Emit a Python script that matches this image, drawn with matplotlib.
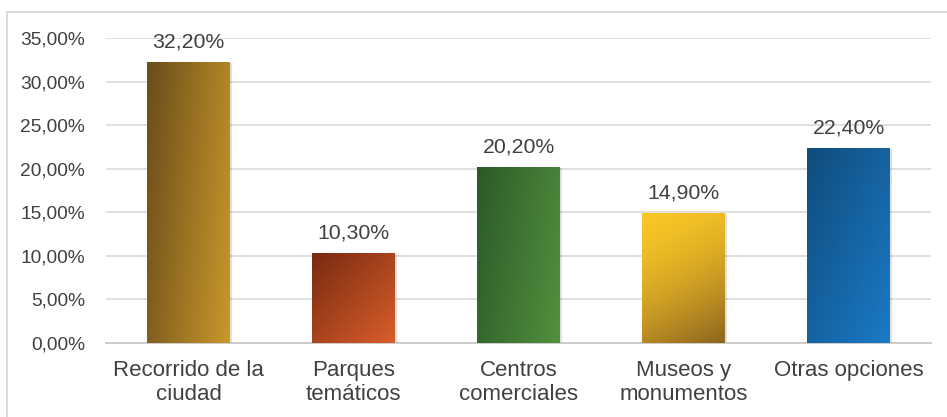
import numpy as np
import matplotlib
matplotlib.use("Agg")
import matplotlib.pyplot as plt
from matplotlib.patches import Rectangle
from matplotlib.colors import to_rgb
from matplotlib.ticker import FuncFormatter

plt.rcParams['font.family'] = ['Liberation Sans', 'DejaVu Sans']

categories = ["Recorrido de la\nciudad", "Parques\ntemáticos", "Centros\ncomerciales",
              "Museos y\nmonumentos", "Otras opciones"]
values = [32.2, 10.3, 20.2, 14.9, 22.4]
yticks = [0, 5, 10, 15, 20, 25, 30, 35]
# gradient colours: (top-left, bottom-right)
grad_colors = [("#6a4c1a", "#c9982b"),
               ("#782a12", "#d95e29"),
               ("#2b5a28", "#52903e"),
               ("#f9c626", "#8c6420"),
               ("#0f4c7c", "#1b7ac6")]

W, H = 947, 417
fig = plt.figure(figsize=(W/100, H/100), dpi=100)
ax = fig.add_axes([106/W, 1-343/H, (931-106)/W, (343-38)/H])

txt = "#404040"
ax.set_xlim(-0.5, 4.5)
ax.set_ylim(0, 35)
ax.set_yticks(yticks)
ax.yaxis.set_major_formatter(FuncFormatter(lambda v, p: f"{v:.2f}".replace(".", ",") + "%"))
ax.grid(axis='y', color="#d9d9d9", lw=1.2)
ax.set_axisbelow(True)
for s in ['top', 'right', 'left']:
    ax.spines[s].set_visible(False)
ax.spines['bottom'].set_color("#c8c8c8")
ax.spines['bottom'].set_linewidth(1.3)
ax.tick_params(axis='both', length=0, colors=txt, labelsize=13.8)
ax.tick_params(axis='y', pad=15)
ax.tick_params(axis='x', pad=12, labelsize=16)
ax.set_xticks(range(len(categories)))
ax.set_xticklabels(categories, linespacing=1.22)

bw = 0.5
bars = ax.bar(range(len(values)), values, width=bw, color='none', zorder=3)
ny, nx = 100, 100
yy, xx = np.mgrid[0:1:ny*1j, 0:1:nx*1j]
for i, (b, (c0, c1)) in enumerate(zip(bars, grad_colors)):
    x0, h = b.get_x(), b.get_height()
    # shadow
    ax.add_patch(Rectangle((x0 + 0.012, -0.1), bw, h, color="#000000", alpha=0.12, zorder=2, lw=0))
    c0, c1 = np.array(to_rgb(c0)), np.array(to_rgb(c1))
    if i == 3:
        t = np.clip(0.25 * xx + 0.75 * yy, 0, 1) ** 1.6
    elif i in (0, 2):
        t = np.clip(0.75 * xx + 0.25 * yy, 0, 1)
    else:
        t = np.clip(0.5 * xx + 0.5 * yy, 0, 1)
    img = c0[None, None, :] * (1 - t[..., None]) + c1[None, None, :] * t[..., None]
    im = ax.imshow(img, extent=(x0, x0 + bw, 0, h), origin='upper', aspect='auto', zorder=3,
                   interpolation='bilinear')
    im.set_clip_path(b)
    ax.text(i, h + 1.2, f"{values[i]:.2f}".replace(".", ",") + "%", ha='center', va='bottom',
            fontsize=15.3, color=txt, zorder=4)

ax.set_xlim(-0.5, 4.5)
ax.set_ylim(0, 35)

# outer border
fig.add_artist(Rectangle((7/W, -0.1), 1.2, 1 - 12/H + 0.1, transform=fig.transFigure,
                         fill=False, ec="#d4d4d4", lw=1.2))

fig.savefig("out.png", dpi=100)
